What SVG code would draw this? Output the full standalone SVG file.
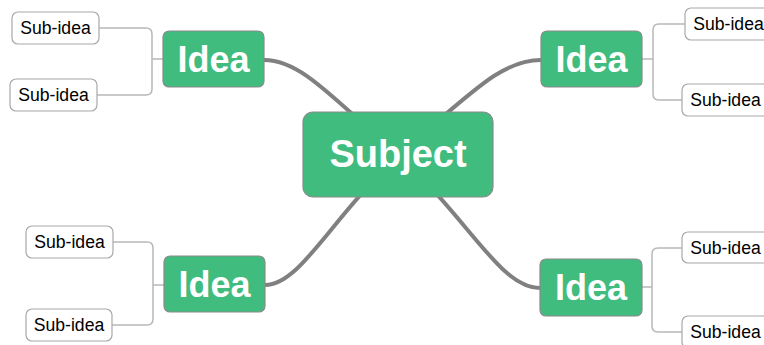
<svg xmlns="http://www.w3.org/2000/svg" width="764" height="345" viewBox="0 0 764 345">
<style>
.main{fill:none;stroke:#808080;stroke-width:4;stroke-linecap:round}
.sub{fill:none;stroke:#b8b8b8;stroke-width:1.5}
.green{fill:#3fbc7e;stroke:#8a8a8a;stroke-width:1.2}
.sbox{fill:#fff;stroke:#a8a8a8;stroke-width:1.2}
.big{font-family:"Liberation Sans",Arial,sans-serif;font-weight:bold;fill:#fff;text-anchor:middle}
.small{font-family:"Liberation Sans",Arial,sans-serif;font-size:17.6px;fill:#000;text-anchor:middle}
</style>
<rect width="764" height="345" fill="#fff"/>
<g id="connectors">
<path class="main" d="M398,155 C330,95 300,60 264,60"/>
<path class="main" d="M398,155 C470,95 500,60 541,60"/>
<path class="main" d="M398,155 C330,220 300,285 265,285"/>
<path class="main" d="M398,155 C470,220 500,288 540,288"/>
<path class="sub" d="M152,59 H163 M99,28 H146 Q152,28 152,34 V89 Q152,95 146,95 H97"/>
<path class="sub" d="M642,59 H653 M685,24 H659 Q653,24 653,30 V94 Q653,100 659,100 H682"/>
<path class="sub" d="M153,285 H164 M113,242 H147 Q153,242 153,248 V319 Q153,325 147,325 H112"/>
<path class="sub" d="M642,287 H652 M682,248 H658 Q652,248 652,254 V326 Q652,332 658,332 H682"/>
</g>
<g id="subject">
<rect class="green" x="303" y="112" width="190" height="85" rx="10"/>
<text class="big" x="398" y="167" font-size="38">Subject</text>
</g>
<g id="idea-tl">
<rect class="green" x="163" y="31" width="101" height="56" rx="6"/>
<text class="big" x="213.5" y="72" font-size="36">Idea</text>
</g>
<g id="idea-tr">
<rect class="green" x="541" y="31" width="101" height="56" rx="6"/>
<text class="big" x="591.5" y="72" font-size="36">Idea</text>
</g>
<g id="idea-bl">
<rect class="green" x="164" y="256" width="101" height="56" rx="6"/>
<text class="big" x="214.5" y="297" font-size="36">Idea</text>
</g>
<g id="idea-br">
<rect class="green" x="540" y="259" width="102" height="57" rx="6"/>
<text class="big" x="591" y="300" font-size="36">Idea</text>
</g>
<g id="sub-tl1"><rect class="sbox" x="12" y="12" width="87" height="32" rx="6"/><text class="small" x="55.5" y="34">Sub-idea</text></g>
<g id="sub-tl2"><rect class="sbox" x="10" y="79" width="87" height="32" rx="6"/><text class="small" x="53.5" y="101">Sub-idea</text></g>
<g id="sub-tr1"><rect class="sbox" x="685" y="8" width="87" height="32" rx="6"/><text class="small" x="728.5" y="30">Sub-idea</text></g>
<g id="sub-tr2"><rect class="sbox" x="682" y="84" width="87" height="32" rx="6"/><text class="small" x="725.5" y="106">Sub-idea</text></g>
<g id="sub-bl1"><rect class="sbox" x="26" y="226" width="87" height="32" rx="6"/><text class="small" x="69.5" y="248">Sub-idea</text></g>
<g id="sub-bl2"><rect class="sbox" x="26" y="309" width="86" height="32" rx="6"/><text class="small" x="69" y="331">Sub-idea</text></g>
<g id="sub-br1"><rect class="sbox" x="682" y="232" width="87" height="31" rx="6"/><text class="small" x="725.5" y="254">Sub-idea</text></g>
<g id="sub-br2"><rect class="sbox" x="682" y="316" width="87" height="32" rx="6"/><text class="small" x="725.5" y="338">Sub-idea</text></g>
</svg>
